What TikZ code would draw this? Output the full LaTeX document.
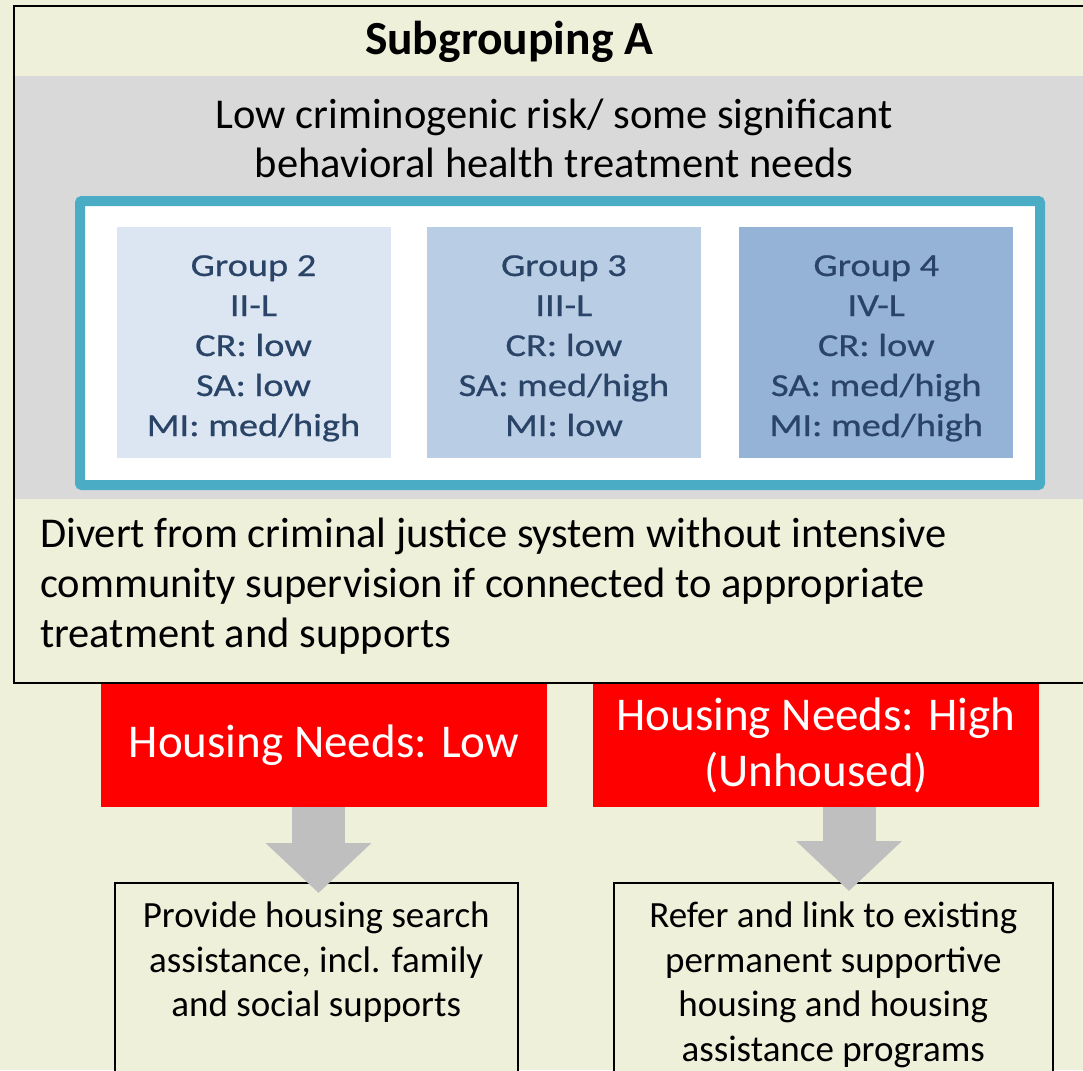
\documentclass[tikz,border=0pt]{standalone}
\usepackage{fontspec}
\setmainfont{Carlito}
\newfontfamily\grpfont[FakeStretch=1.2,FakeBold=0.6]{Carlito}
\usepackage{xcolor}
\usepackage{tikz}
\usetikzlibrary{positioning,calc,arrows.meta}

\definecolor{creambg}{HTML}{EEF0DA}
\definecolor{bandgray}{HTML}{D9D9D9}
\definecolor{tealline}{HTML}{4BACC6}
\definecolor{grpA}{HTML}{DCE6F2}
\definecolor{grpB}{HTML}{B9CDE5}
\definecolor{grpC}{HTML}{95B3D7}
\definecolor{grptext}{HTML}{2A4468}
\definecolor{arrowgray}{HTML}{BFBFBF}

\newcommand{\grptop}{\rule{0pt}{39pt}}

\begin{document}
\begin{tikzpicture}[x=1pt,y=-1pt,
    grp/.style={minimum width=274pt,minimum height=231pt,inner sep=0pt,align=center,text=grptext,font=\grpfont\fontsize{32}{40}\selectfont,execute at end node=\strut},
    need/.style={fill=red,text=white,minimum width=446pt,minimum height=123pt,inner sep=0pt,align=center,font=\fontsize{47}{56}\selectfont},
    actbox/.style={draw,line width=1.5pt,fill=creambg,minimum height=200pt,anchor=north west,inner sep=0pt},
    acttext/.style={align=center,inner sep=0pt,font=\fontsize{37}{44.5}\selectfont},
    bigarrow/.style={arrowgray,line width=53pt,-{Triangle[width=103pt,length=50pt]}}]
    \useasboundingbox (0,0) rectangle (1083,1070);
    \clip (0,0) rectangle (1083,1070);
    \fill[creambg] (0,0) rectangle (1083,1070);

    % Subgrouping box
    \fill[bandgray] (14,76) rectangle (1095,499);
    \node[font=\bfseries\fontsize{47.5}{52}\selectfont] (title) at (509,42) {Subgrouping A};
    \node[align=center,font=\fontsize{42.5}{49}\selectfont] (risk) at (554,138) {Low criminogenic risk/ some significant\\behavioral health treatment needs};

    % Groups
    \draw[tealline,line width=10pt,fill=white,rounded corners=2pt] (80,201) rectangle (1040,485);
    \node[grp,fill=grpA] (g2) at (253.5,342.5) {\grptop Group 2\\II-L\\CR: low\\SA: low\\MI: med/high};
    \node[grp,fill=grpB,right=36pt of g2] (g3) {\grptop Group 3\\III-L\\CR: low\\SA: med/high\\MI: low};
    \node[grp,fill=grpC,right=38pt of g3] (g4) {\grptop Group 4\\IV-L\\CR: low\\SA: med/high\\MI: med/high};

    \node[align=left,anchor=north west,inner sep=0pt,font=\fontsize{42.5}{50}\selectfont] (divert) at (40,518) {Divert from criminal justice system without intensive\\community supervision if connected to appropriate\\treatment and supports};

    % Housing needs
    \node[need] (low) at (324,745) {Housing Needs: Low};
    \node[need] (high) at (816,745) {Housing Needs: High\\(Unhoused)};
    \draw[line width=2pt] (14,6) rectangle (1095,683);

    % Actions
    \node[actbox,minimum width=403pt] (act1) at (114,882) {};
    \node[acttext,below=20pt of act1.north] (act1t) {Provide housing search\\assistance, incl. family\\and social supports};
    \node[actbox,minimum width=439pt] (act2) at (613,882) {};
    \node[acttext,below=20pt of act2.north] (act2t) {Refer and link to existing\\permanent supportive\\housing and housing\\assistance programs};

    % Arrows
    \coordinate (tipL) at (318.5,893);
    \coordinate (tipH) at (849,891);
    \draw[bigarrow] (low.south -| tipL) -- (tipL);
    \draw[bigarrow] (high.south -| tipH) -- (tipH);
\end{tikzpicture}
\end{document}
